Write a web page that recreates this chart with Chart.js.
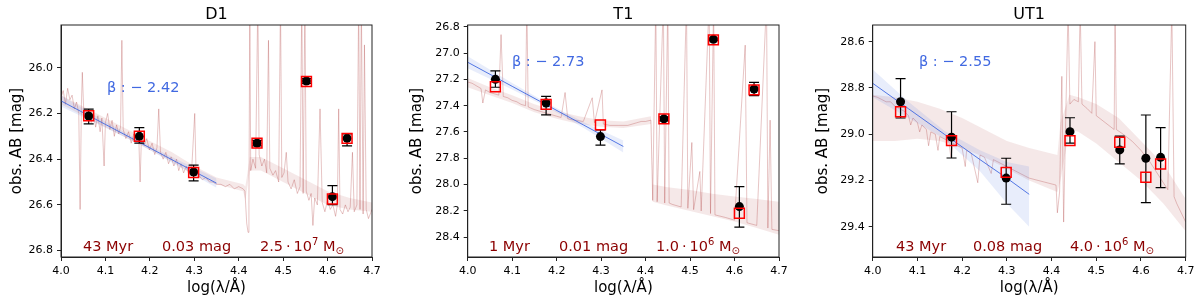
<!DOCTYPE html>
<html>
<head>
<meta charset="utf-8">
<script src="https://cdn.jsdelivr.net/npm/chart.js@4/dist/chart.umd.min.js"></script>
<style>
  body { margin: 0; background: #fff; }
  canvas { position: absolute; top: 0; }
</style>
</head>
<body>
<canvas id="c1" width="400" height="303" style="left:0"></canvas>
<canvas id="c2" width="400" height="303" style="left:400px"></canvas>
<canvas id="c3" width="400" height="303" style="left:800px"></canvas>
<script>
// filter pivot wavelengths, log(lambda/A)
const filterX = [4.0623, 4.1763, 4.2985, 4.4412, 4.5525, 4.6109, 4.6439]
const xTicks = [4.0, 4.1, 4.2, 4.3, 4.4, 4.5, 4.6, 4.7]

const panelNames = ['D1', 'T1', 'UT1']
const betas = [-2.42, -2.73, -2.55]
const ages = ['43 Myr', '1 Myr', '43 Myr']
const dusts = ['0.03 mag', '0.01 mag', '0.08 mag']
const massMant = ['2.5', '1.0', '4.0']
const massExp = ['7', '6', '6']

// ---- D1 ----
const d1Ticks = [26.0, 26.2, 26.4, 26.6, 26.8]
const d1Obs = [26.211, 26.300, 26.456, 26.330, 26.058, 26.564, 26.309]
const d1ErrUp = [0.03, 0.038, 0.03, 0.012, 0.01, 0.048, 0.02]
const d1ErrDown = [0.035, 0.03, 0.039, 0.012, 0.01, 0.035, 0.033]
const d1Model = [26.21, 26.30, 26.458, 26.33, 26.06, 26.574, 26.309]
// fit: x, y, hi, lo
const d1Fit = [[4.0, 26.145, 26.12, 26.17], [4.1, 26.248, 26.235, 26.262], [4.18, 26.33, 26.322, 26.338],
  [4.26, 26.413, 26.40, 26.427], [4.35, 26.505, 26.485, 26.525]]
// model spectrum band: x, hi, lo
const d1Band = [[4.0, 26.12, 26.16], [4.05, 26.17, 26.21], [4.1, 26.22, 26.26], [4.15, 26.27, 26.31], [4.2, 26.32, 26.36],
  [4.25, 26.37, 26.41], [4.3, 26.43, 26.47], [4.35, 26.48, 26.51], [4.41, 26.51, 26.54], [4.415, 26.52, 26.58],
  [4.425, 26.39, 26.45], [4.45, 26.39, 26.45], [4.5, 26.44, 26.50], [4.55, 26.49, 26.55], [4.6, 26.54, 26.60],
  [4.65, 26.57, 26.62], [4.7, 26.59, 26.63]]
const d1Spec = [[4.000, 26.13], [4.005, 26.10], [4.010, 26.16], [4.015, 26.09], [4.020, 26.14], [4.025, 26.12],
  [4.030, 26.18], [4.035, 26.15], [4.040, 26.20], [4.043, 26.62], [4.046, 26.16], [4.048, 26.02], [4.051, 26.18],
  [4.056, 26.22], [4.062, 26.19], [4.068, 26.24], [4.073, 26.20], [4.078, 26.26], [4.083, 26.21], [4.088, 26.28],
  [4.092, 26.22], [4.097, 26.43], [4.100, 26.24], [4.105, 26.20], [4.110, 26.27], [4.115, 26.23], [4.120, 26.30],
  [4.125, 26.25], [4.130, 26.29], [4.134, 26.26], [4.137, 25.88], [4.140, 26.27], [4.146, 26.31], [4.152, 26.28],
  [4.158, 26.33], [4.164, 26.29], [4.170, 26.32], [4.175, 26.30], [4.178, 26.50], [4.181, 26.31], [4.187, 26.34],
  [4.193, 26.31], [4.199, 26.36], [4.205, 26.33], [4.211, 26.38], [4.216, 26.35], [4.220, 26.18], [4.224, 26.37],
  [4.230, 26.40], [4.236, 26.37], [4.242, 26.42], [4.248, 26.39], [4.254, 26.43], [4.260, 26.40], [4.265, 26.45],
  [4.270, 26.42], [4.276, 26.46], [4.282, 26.43], [4.288, 26.47], [4.294, 26.45], [4.301, 26.20], [4.304, 26.46],
  [4.310, 26.47], [4.318, 26.49], [4.326, 26.48], [4.334, 26.50], [4.342, 26.50], [4.350, 26.51], [4.360, 26.51],
  [4.370, 26.52], [4.380, 26.51], [4.390, 26.53], [4.400, 26.52], [4.410, 26.53], [4.414, 26.54], [4.418, 26.68],
  [4.421, 26.72], [4.423, 26.60], [4.425, 25.70], [4.427, 26.45], [4.432, 26.40], [4.438, 26.44], [4.443, 25.70],
  [4.446, 26.38], [4.452, 26.43], [4.458, 26.40], [4.463, 26.46], [4.467, 25.88], [4.470, 26.44], [4.477, 26.47],
  [4.483, 26.45], [4.490, 26.50], [4.494, 25.70], [4.497, 26.48], [4.502, 26.46], [4.507, 26.37], [4.511, 26.50],
  [4.518, 26.53], [4.525, 26.49], [4.532, 26.55], [4.538, 26.52], [4.542, 25.70], [4.545, 26.55], [4.549, 25.70],
  [4.552, 26.54], [4.558, 26.58], [4.563, 26.55], [4.567, 26.69], [4.571, 26.57], [4.577, 26.60], [4.583, 26.18],
  [4.588, 26.59], [4.594, 26.63], [4.600, 26.58], [4.606, 26.62], [4.612, 26.60], [4.618, 26.65], [4.622, 26.60],
  [4.625, 26.18], [4.628, 26.62], [4.634, 26.64], [4.640, 26.60], [4.646, 26.63], [4.651, 26.61], [4.656, 26.37],
  [4.660, 26.63], [4.666, 26.60], [4.670, 25.70], [4.673, 26.62], [4.676, 25.70], [4.680, 26.64], [4.683, 25.90],
  [4.687, 26.62], [4.692, 26.66], [4.700, 26.62]]

// ---- T1 ----
const t1Ticks = [26.8, 27.0, 27.2, 27.4, 27.6, 27.8, 28.0, 28.2, 28.4]
const t1Obs = [27.20, 27.38, 27.635, 27.50, 26.896, 28.167, 27.273]
const t1ErrUp = [0.065, 0.05, 0.05, 0.015, 0.01, 0.152, 0.05]
const t1ErrDown = [0.06, 0.09, 0.065, 0.015, 0.01, 0.156, 0.05]
const t1Model = [27.256, 27.39, 27.546, 27.50, 26.90, 28.217, 27.28]
const t1Fit = [[4.0, 27.07, 27.025, 27.115], [4.1, 27.253, 27.228, 27.278], [4.18, 27.399, 27.384, 27.414],
  [4.26, 27.546, 27.525, 27.567], [4.35, 27.71, 27.665, 27.755]]
const t1Band = [[4.0, 27.19, 27.26], [4.05, 27.26, 27.32], [4.1, 27.32, 27.38], [4.15, 27.39, 27.45], [4.2, 27.44, 27.50],
  [4.25, 27.48, 27.54], [4.3, 27.51, 27.56], [4.35, 27.52, 27.57], [4.412, 27.48, 27.54], [4.416, 28.00, 28.13],
  [4.45, 28.02, 28.16], [4.5, 28.04, 28.20], [4.55, 28.07, 28.24], [4.6, 28.09, 28.28], [4.65, 28.11, 28.33],
  [4.7, 28.13, 28.38]]
const t1Spec = [[4.000, 27.22], [4.010, 27.23], [4.020, 27.25], [4.030, 27.27], [4.034, 27.38], [4.040, 27.28],
  [4.050, 27.30], [4.060, 27.31], [4.070, 27.32], [4.075, 26.86], [4.080, 27.33], [4.090, 27.34], [4.100, 27.36],
  [4.110, 27.37], [4.120, 27.39], [4.130, 27.40], [4.133, 26.60], [4.136, 27.41], [4.150, 27.43], [4.160, 27.44],
  [4.170, 27.45], [4.180, 27.46], [4.190, 27.47], [4.200, 27.48], [4.210, 27.49], [4.219, 27.30], [4.225, 27.50],
  [4.240, 27.51], [4.260, 27.52], [4.280, 27.34], [4.285, 27.53], [4.302, 27.28], [4.305, 27.54], [4.320, 27.55],
  [4.340, 27.55], [4.360, 27.55], [4.370, 27.54], [4.380, 27.53], [4.390, 27.52], [4.400, 27.52], [4.412, 27.51],
  [4.416, 28.12], [4.423, 26.60], [4.426, 28.13], [4.440, 26.60], [4.443, 28.14], [4.450, 26.60], [4.453, 28.14],
  [4.460, 28.15], [4.480, 28.17], [4.492, 26.60], [4.495, 28.18], [4.504, 27.68], [4.508, 28.19], [4.522, 27.90],
  [4.525, 28.20], [4.543, 26.60], [4.546, 28.22], [4.553, 26.60], [4.556, 28.23], [4.580, 28.25], [4.600, 28.27],
  [4.624, 26.94], [4.628, 28.29], [4.650, 28.31], [4.672, 26.60], [4.675, 28.33], [4.680, 27.51], [4.684, 28.34],
  [4.700, 28.35]]

// ---- UT1 ----
const ut1Ticks = [28.6, 28.8, 29.0, 29.2, 29.4]
const ut1Obs = [28.86, 29.013, 29.19, 28.989, 29.068, 29.104, 29.10]
const ut1ErrUp = [0.10, 0.11, 0.086, 0.06, 0.06, 0.187, 0.128]
const ut1ErrDown = [0.07, 0.09, 0.113, 0.05, 0.06, 0.192, 0.131]
const ut1Model = [28.903, 29.028, 29.165, 29.028, 29.035, 29.186, 29.129]
const ut1Fit = [[4.0, 28.78, 28.72, 28.84], [4.08, 28.89, 28.86, 28.93], [4.16, 29.0, 28.985, 29.02],
  [4.24, 29.11, 29.07, 29.16], [4.3, 29.19, 29.12, 29.30], [4.35, 29.26, 29.14, 29.40]]
const ut1Band = [[4.0, 28.83, 29.03], [4.05, 28.84, 29.03], [4.1, 28.86, 29.02], [4.15, 28.89, 29.03], [4.2, 28.93, 29.06],
  [4.25, 28.98, 29.10], [4.3, 29.03, 29.15], [4.35, 29.06, 29.20], [4.413, 29.09, 29.25], [4.42, 28.95, 29.20],
  [4.44, 28.83, 28.98], [4.46, 28.84, 28.99], [4.5, 28.87, 29.04], [4.55, 28.93, 29.12], [4.6, 29.03, 29.20],
  [4.65, 29.13, 29.30], [4.7, 29.28, 29.42]]
const ut1Spec = [[4.000, 28.835], [4.010, 28.84], [4.020, 28.85], [4.030, 28.86], [4.040, 28.86], [4.050, 28.88],
  [4.060, 28.89], [4.070, 28.90], [4.080, 28.92], [4.085, 28.96], [4.090, 28.93], [4.100, 28.95], [4.105, 28.99],
  [4.110, 28.96], [4.120, 28.98], [4.125, 29.05], [4.130, 28.99], [4.140, 29.00], [4.146, 29.07], [4.150, 29.01],
  [4.160, 29.02], [4.170, 29.03], [4.175, 29.10], [4.180, 29.04], [4.190, 29.05], [4.200, 29.06], [4.207, 29.14],
  [4.210, 29.07], [4.220, 29.08], [4.235, 29.21], [4.240, 29.09], [4.250, 29.10], [4.265, 29.17], [4.270, 29.11],
  [4.280, 29.12], [4.290, 29.13], [4.300, 29.14], [4.310, 29.15], [4.320, 29.16], [4.330, 29.17], [4.340, 29.18],
  [4.350, 29.19], [4.370, 29.20], [4.390, 29.21], [4.410, 29.22], [4.413, 29.34], [4.418, 29.25], [4.423, 28.75],
  [4.427, 29.38], [4.432, 28.90], [4.437, 28.45], [4.441, 28.87], [4.450, 28.85], [4.460, 28.86], [4.464, 28.45],
  [4.468, 28.87], [4.480, 28.89], [4.490, 28.91], [4.497, 28.60], [4.500, 28.92], [4.520, 28.95], [4.540, 28.98],
  [4.542, 28.45], [4.545, 28.98], [4.560, 29.00], [4.580, 29.03], [4.600, 29.07], [4.620, 29.12], [4.640, 29.18],
  [4.660, 29.24], [4.669, 28.45], [4.674, 29.27], [4.680, 29.30], [4.690, 29.34], [4.700, 29.38]]

Chart.defaults.font.family = 'DejaVu Sans'
Chart.defaults.color = '#000'

const royal = 'rgb(65,105,225)'
const spine = '#222'

// error bars under the black circles
const errorBars = {
  id: 'errorBars',
  beforeDatasetDraw(chart, args) {
    const ds = chart.data.datasets[args.index]
    if (!ds.errUp) return
    const { ctx, scales: { x, y } } = chart
    ctx.save()
    ctx.strokeStyle = '#000'
    ctx.lineWidth = 1.2
    ds.data.forEach((p, i) => {
      const px = x.getPixelForValue(p.x)
      const top = y.getPixelForValue(p.y - ds.errUp[i])
      const bot = y.getPixelForValue(p.y + ds.errDown[i])
      ctx.beginPath()
      ctx.moveTo(px, top); ctx.lineTo(px, bot)
      ctx.moveTo(px - 5, top); ctx.lineTo(px + 5, top)
      ctx.moveTo(px - 5, bot); ctx.lineTo(px + 5, bot)
      ctx.stroke()
    })
    ctx.restore()
  }
}

// frame, title and the text annotations
const panelText = {
  id: 'panelText',
  afterDraw(chart, args, o) {
    const { ctx, chartArea: a } = chart
    ctx.save()
    ctx.strokeStyle = spine
    ctx.lineWidth = 1
    ctx.strokeRect(a.left, a.top, a.right - a.left, a.bottom - a.top)

    ctx.fillStyle = '#000'
    ctx.font = '16px "DejaVu Sans"'
    ctx.textAlign = 'center'
    ctx.textBaseline = 'middle'
    ctx.fillText(o.title, (a.left + a.right) / 2, 15)

    ctx.textAlign = 'left'
    ctx.textBaseline = 'alphabetic'
    ctx.font = '14.5px "DejaVu Sans"'
    ctx.fillStyle = royal
    ctx.fillText('β : − ' + Math.abs(o.beta).toFixed(2), o.betaX, o.betaY)

    ctx.fillStyle = '#8b0000'
    const by = 251
    ctx.fillText(o.age, o.labelX[0], by)
    ctx.fillText(o.dust, o.labelX[1], by)
    let x = o.labelX[2]
    const part = (txt, size, dy) => {
      ctx.font = size + 'px "DejaVu Sans"'
      ctx.fillText(txt, x, by + dy)
      x += ctx.measureText(txt).width
    }
    part(o.mant + '\u2009·\u200910', 14.5, 0)
    part(o.exp, 10, -6)
    part(' M', 14.5, 0)
    part('⊙', 10, 3)
    ctx.restore()
  }
}

let makePanel = (id, p, lay) => {
  const pts = (xs, ys) => xs.map((x, i) => ({ x, y: ys[i] }))
  const col = (rows, k) => rows.map(r => ({ x: r[0], y: r[k] }))
  const plain = { type: 'line', pointRadius: 0, borderWidth: 1, fill: false }
  const edge = { type: 'line', pointRadius: 0, borderWidth: 1, borderColor: 'transparent' }

  new Chart(document.getElementById(id), {
    type: 'scatter',
    data: {
      datasets: [
        { data: pts(filterX, p.model), pointStyle: 'rect', pointRadius: 7, borderColor: '#ff0000',
          borderWidth: 1.5, backgroundColor: 'transparent', order: 1 },
        { data: pts(filterX, p.obs), errUp: p.errUp, errDown: p.errDown, pointRadius: 4.5,
          backgroundColor: '#000', borderColor: '#000', borderWidth: 0, order: 2 },
        { ...plain, data: col(p.fit, 1), borderColor: 'rgba(65,105,225,0.9)', order: 3 },
        { ...edge, data: col(p.fit, 2), fill: '+1', backgroundColor: 'rgba(65,105,225,0.12)', order: 4 },
        { ...edge, data: col(p.fit, 3), order: 5 },
        { ...plain, data: p.spec.map(s => ({ x: s[0], y: s[1] })), borderWidth: 0.9,
          borderColor: 'rgba(165,42,42,0.3)', order: 6 },
        { ...edge, data: col(p.band, 1), fill: '+1', backgroundColor: 'rgba(165,42,42,0.11)', order: 7 },
        { ...edge, data: col(p.band, 2), order: 8 }
      ]
    },
    options: {
      responsive: false,
      animation: false,
      devicePixelRatio: 1,
      events: [],
      clip: 0,
      layout: { padding: { left: 0, right: lay.right, top: 25, bottom: 0 } },
      plugins: {
        legend: { display: false },
        tooltip: { enabled: false },
        panelText: { title: p.name, beta: p.beta, age: p.age, dust: p.dust, mant: p.mant, exp: p.exp,
          betaX: lay.betaX, betaY: lay.betaY, labelX: lay.labelX }
      },
      scales: {
        x: {
          type: 'linear', min: 4.0, max: 4.7,
          afterBuildTicks: s => { s.ticks = xTicks.map(v => ({ value: v })) },
          afterFit: s => { s.height = 46 },
          ticks: { callback: v => v.toFixed(1), font: { size: 11 }, color: '#000', padding: 4, maxRotation: 0, autoSkip: false },
          grid: { drawOnChartArea: false, drawTicks: true, tickLength: 4, color: spine },
          border: { display: true, color: spine },
          title: { display: true, text: 'log(λ/Å)', font: { size: 15 }, color: '#000', padding: { bottom: 6 } }
        },
        y: {
          type: 'linear', reverse: true, min: p.ymin, max: p.ymax,
          afterBuildTicks: s => { s.ticks = p.ticks.map(v => ({ value: v })) },
          afterFit: s => { s.width = lay.left },
          ticks: { callback: v => v.toFixed(1), font: { size: 11 }, color: '#000', padding: 4, autoSkip: false },
          grid: { drawOnChartArea: false, drawTicks: true, tickLength: 4, color: spine },
          border: { display: true, color: spine },
          title: { display: true, text: 'obs. AB [mag]', font: { size: 15 }, color: '#000', padding: { top: lay.yTitlePad } }
        }
      }
    },
    plugins: [errorBars, panelText]
  })
}

makePanel('c1', { name: panelNames[0], beta: betas[0], age: ages[0], dust: dusts[0], mant: massMant[0], exp: massExp[0],
  ticks: d1Ticks, ymin: 25.813, ymax: 26.828, obs: d1Obs, errUp: d1ErrUp, errDown: d1ErrDown, model: d1Model,
  fit: d1Fit, band: d1Band, spec: d1Spec },
  { left: 61, right: 28, yTitlePad: 8.5, betaX: 107, betaY: 92, labelX: [83, 162, 260] })

makePanel('c2', { name: panelNames[1], beta: betas[1], age: ages[1], dust: dusts[1], mant: massMant[1], exp: massExp[1],
  ticks: t1Ticks, ymin: 26.787, ymax: 28.55, obs: t1Obs, errUp: t1ErrUp, errDown: t1ErrDown, model: t1Model,
  fit: t1Fit, band: t1Band, spec: t1Spec },
  { left: 67.7, right: 21, yTitlePad: 7.7, betaX: 112, betaY: 66, labelX: [89, 159, 256] })

makePanel('c3', { name: panelNames[2], beta: betas[2], age: ages[2], dust: dusts[2], mant: massMant[2], exp: massExp[2],
  ticks: ut1Ticks, ymin: 28.528, ymax: 29.531, obs: ut1Obs, errUp: ut1ErrUp, errDown: ut1ErrDown, model: ut1Model,
  fit: ut1Fit, band: ut1Band, spec: ut1Spec },
  { left: 72.7, right: 14.3, yTitlePad: 14.5, betaX: 119, betaY: 66, labelX: [96, 173, 270] })
</script>
</body>
</html>
